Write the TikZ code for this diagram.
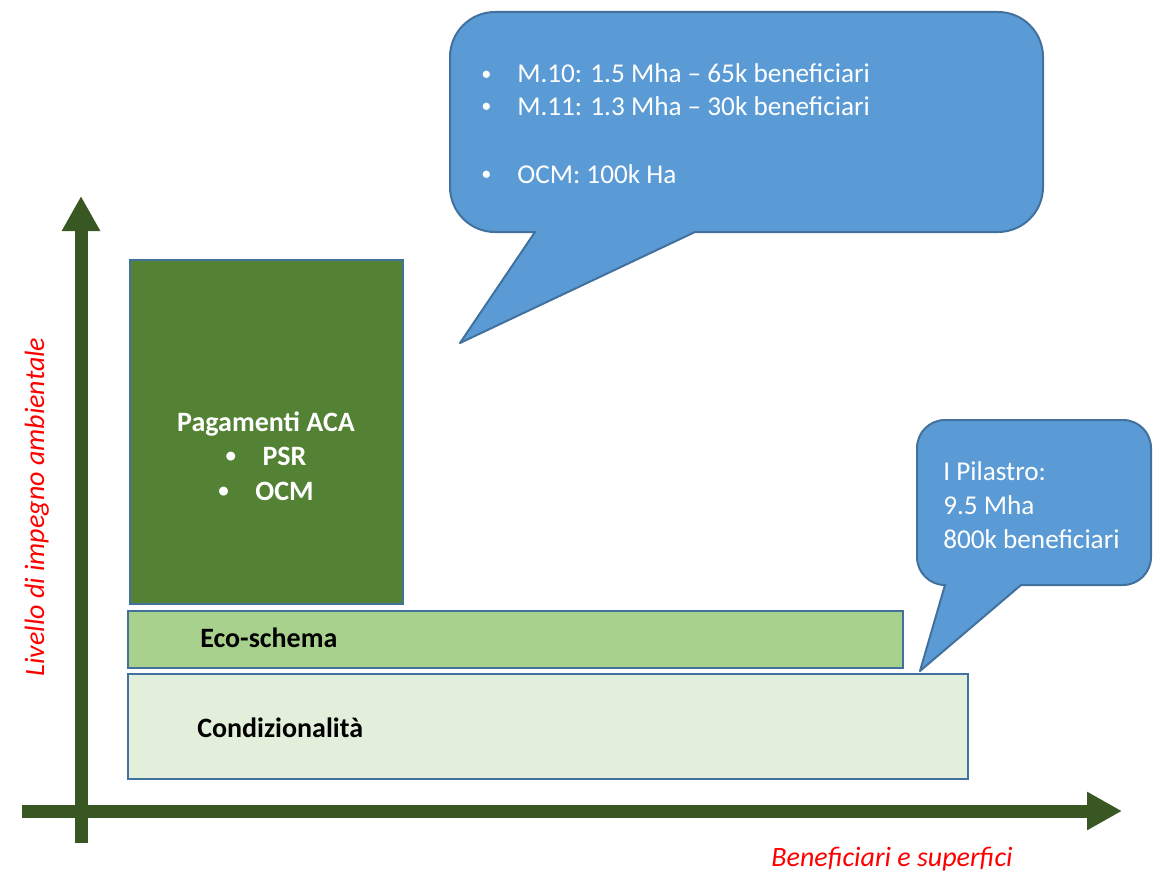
\documentclass[tikz,border=0pt]{standalone}
\usepackage{fontspec}
\setmainfont{Carlito}
\usetikzlibrary{arrows.meta}
\definecolor{axisgreen}{HTML}{385723}
\definecolor{boxborder}{HTML}{41719C}
\definecolor{calloutfill}{HTML}{5B9BD5}
\definecolor{acagreen}{HTML}{548235}
\definecolor{ecogreen}{HTML}{A9D18E}
\definecolor{condgreen}{HTML}{E2EFDA}
\definecolor{labelred}{HTML}{FF0000}
\newcommand{\smallbul}{\raisebox{0.1em}{\scalebox{0.75}{\textbullet}}}
\begin{document}
\begin{tikzpicture}[x=0.75pt,y=-0.75pt,
  every node/.style={inner sep=0pt, font=\fontsize{20.4}{24}\selectfont},
  box/.style={draw=boxborder, line width=1.5pt, rectangle},
  callout/.style={draw=boxborder, fill=calloutfill, line width=1.5pt, line join=round},
  axisline/.style={draw=axisgreen, line width=9.75pt, -{Triangle[length=26.25pt, width=27pt]}},
  whitetext/.style={text=white},
  boldtext/.style={font=\fontsize{21}{24}\selectfont\bfseries},
  redlabel/.style={text=labelred, font=\fontsize{21}{24}\selectfont\itshape}
]
\useasboundingbox (0,0) rectangle (1153,874);

% axes
\coordinate (ybottom) at (81,843);
\coordinate (ytop) at (81,196);
\coordinate (xleft) at (22,811);
\coordinate (xright) at (1122,811);
\draw[axisline] (ybottom) -- (ytop);
\draw[axisline] (xleft) -- (xright);

% boxes
\node[box, fill=acagreen, minimum width=204.75pt, minimum height=258pt] (aca) at (266.5,432) {};
\node[box, fill=ecogreen, minimum width=581.25pt, minimum height=42.75pt] (eco) at (515.5,639.5) {};
\node[box, fill=condgreen, minimum width=630pt, minimum height=78.75pt] (cond) at (548,726.5) {};

% box texts
\node[whitetext, boldtext, anchor=base] (acatitle) at (266,431) {Pagamenti ACA};
\node[whitetext, boldtext, anchor=base] (psr) at (266,465) {\makebox[27.75pt][l]{\smallbul}PSR};
\node[whitetext, boldtext, anchor=base] (ocmaca) at (266,500) {\makebox[27.75pt][l]{\smallbul}OCM};
\node[boldtext, anchor=base west] (ecotext) at (200,647) {Eco-schema};
\node[boldtext, anchor=base west] (condtext) at (197,737) {Condizionalità};

% big callout
\draw[callout] (535,232) -- (495,232) arc[start angle=270, end angle=180, radius=33.75pt]
  -- (450,57) arc[start angle=180, end angle=90, radius=33.75pt]
  -- (998,12) arc[start angle=90, end angle=0, radius=33.75pt]
  -- (1043,187) arc[start angle=0, end angle=-90, radius=33.75pt]
  -- (695,232) -- (460,343) -- cycle;
\node[whitetext, anchor=base west] (m10) at (481,83) {\makebox[27pt][l]{\smallbul}M.10: 1.5 Mha – 65k beneficiari};
\node[whitetext, anchor=base west] (m11) at (481,115) {\makebox[27pt][l]{\smallbul}M.11: 1.3 Mha – 30k beneficiari};
\node[whitetext, anchor=base west] (ocm) at (481,183) {\makebox[27pt][l]{\smallbul}OCM: 100k Ha};

% small callout
\draw[callout] (1021,585) -- (920,671) -- (945,585) arc[start angle=270, end angle=180, radius=21pt]
  -- (917,448) arc[start angle=180, end angle=90, radius=21pt]
  -- (1123,420) arc[start angle=90, end angle=0, radius=21pt]
  -- (1151,557) arc[start angle=0, end angle=-90, radius=21pt]
  -- cycle;
\node[whitetext, anchor=base west] (pil1) at (943,480) {I Pilastro:};
\node[whitetext, anchor=base west] (pil2) at (943,514) {9.5 Mha};
\node[whitetext, anchor=base west] (pil3) at (943,548) {800k beneficiari};

% axis labels
\node[redlabel, anchor=base, rotate=90] (ylabel) at (44,507) {Livello di impegno ambientale};
\node[redlabel, anchor=base] (xlabel) at (892,866) {Beneficiari e superfici};
\end{tikzpicture}
\end{document}
